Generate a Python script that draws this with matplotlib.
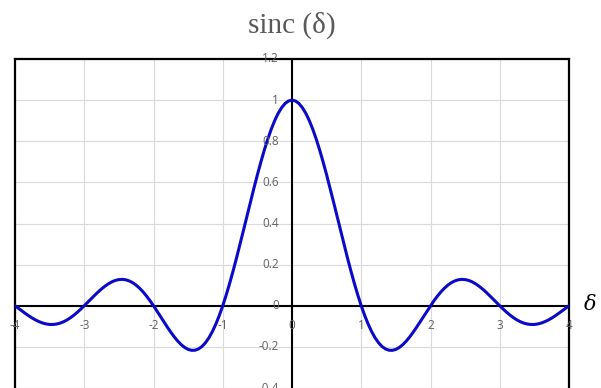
import numpy as np
import matplotlib
matplotlib.use("Agg")
import matplotlib.pyplot as plt

# Normalised sinc, sampled every 0.05 from -4 to 4
delta = np.linspace(-4, 4, 161)
sinc_neg = [
    0.0, -0.01261, -0.02522, -0.03754, -0.04924, -0.06002, -0.06960, -0.07770, -0.08409, -0.08856,
    -0.09095, -0.09113, -0.08904, -0.08466, -0.07804, -0.06925, -0.05847, -0.04588, -0.03173, -0.01633,
    0.0, 0.01688, 0.03392, 0.05071, 0.06682, 0.08185, 0.09538, 0.10703, 0.11643, 0.12329,
    0.12732, 0.12832, 0.12614, 0.12069, 0.11196, 0.10003, 0.08504, 0.06721, 0.04684, 0.02429,
    0.0, -0.02554, -0.05177, -0.07811, -0.10394, -0.12862, -0.15148, -0.17189, -0.18921, -0.20283,
    -0.21221, -0.21682, -0.21624, -0.21009, -0.19809, -0.18006, -0.15592, -0.12566, -0.08942, -0.04742,
    0.0, 0.05242, 0.10929, 0.17001, 0.23387, 0.30011, 0.36788, 0.43633, 0.50455, 0.57162,
    0.63662, 0.69865, 0.75683, 0.81033, 0.85839, 0.90032, 0.93549, 0.96340, 0.98363, 0.99589,
]
sinc_peak = [1.0]
sinc_pos = [
    0.99589, 0.98363, 0.96340, 0.93549, 0.90032, 0.85839, 0.81033, 0.75683, 0.69865, 0.63662,
    0.57162, 0.50455, 0.43633, 0.36788, 0.30011, 0.23387, 0.17001, 0.10929, 0.05242, 0.0,
    -0.04742, -0.08942, -0.12566, -0.15592, -0.18006, -0.19809, -0.21009, -0.21624, -0.21682, -0.21221,
    -0.20283, -0.18921, -0.17189, -0.15148, -0.12862, -0.10394, -0.07811, -0.05177, -0.02554, 0.0,
    0.02429, 0.04684, 0.06721, 0.08504, 0.10003, 0.11196, 0.12069, 0.12614, 0.12832, 0.12732,
    0.12329, 0.11643, 0.10703, 0.09538, 0.08185, 0.06682, 0.05071, 0.03392, 0.01688, 0.0,
    -0.01633, -0.03173, -0.04588, -0.05847, -0.06925, -0.07804, -0.08466, -0.08904, -0.09113, -0.09095,
    -0.08856, -0.08409, -0.07770, -0.06960, -0.06002, -0.04924, -0.03754, -0.02522, -0.01261, 0.0,
]
sinc_vals = sinc_neg + sinc_peak + sinc_pos

x_ticks = [-4, -3, -2, -1, 0, 1, 2, 3, 4]
y_ticks = [-0.4, -0.2, 0, 0.2, 0.4, 0.6, 0.8, 1, 1.2]
y_tick_labels = ["-0.4", "-0.2", "0", "0.2", "0.4", "0.6", "0.8", "1", "1.2"]

W, H = 601, 388
fig = plt.figure(figsize=(W / 100, H / 100), dpi=100)
ax = fig.add_axes([15 / W, 0, (569 - 15) / W, 1 - 59 / H])
ax.set_xlim(-4, 4)
ax.set_ylim(-0.4, 1.2)

ax.set_xticks(x_ticks)
ax.set_yticks(y_ticks)
ax.tick_params(length=0, labelbottom=False, labelleft=False)
ax.grid(True, color="#d9d9d9", linewidth=0.8)
ax.set_axisbelow(True)

for side in ("left", "top", "right"):
    ax.spines[side].set_linewidth(1.6)
    ax.spines[side].set_color("black")
ax.spines["bottom"].set_visible(False)

ax.axhline(0, color="black", linewidth=1.5, zorder=2)
ax.axvline(0, color="black", linewidth=1.5, zorder=2)

ax.plot(delta, sinc_vals, color="#0a0ac8", linewidth=2.2, zorder=3,
        solid_capstyle="round", solid_joinstyle="round")

tick_font = dict(family="Open Sans", fontsize=8.5, color="#606060")
for xv in x_ticks:
    ax.annotate(str(xv), (xv, 0), xytext=(0, -14), textcoords="offset points",
                ha="center", va="center", zorder=4, **tick_font)
for yv, lab in zip(y_ticks, y_tick_labels):
    ax.annotate(lab, (0, yv), xytext=(-9.5, 0), textcoords="offset points",
                ha="right", va="center", zorder=4, annotation_clip=False, **tick_font)

fig.text(292 / W, 1 - 25 / H, "sinc (δ)", ha="center", va="center",
         family="Liberation Serif", fontsize=21, color="#595959")
fig.text(590 / W, 1 - 304 / H, "δ", ha="center", va="center",
         family="DejaVu Serif", style="italic", fontsize=15, color="black")

fig.savefig("out.png", dpi=100)
